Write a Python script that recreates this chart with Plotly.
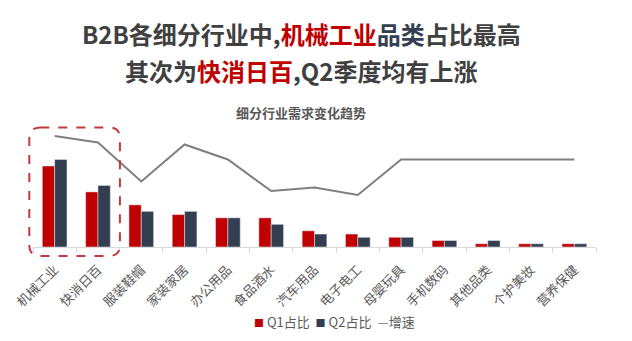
import plotly.graph_objects as go

categories = ["机械工业", "快消日百", "服装鞋帽", "家装家居", "办公用品", "食品酒水",
              "汽车用品", "电子电工", "母婴玩具", "手机数码", "其他品类", "个护美妆", "营养保健"]
q1_share = [25, 17, 13, 10, 9, 9, 5, 4, 3, 2, 1, 1, 1]
q2_share = [27, 19, 11, 11, 9, 7, 4, 3, 3, 2, 2, 1, 1]
growth = [22.2, 20.9, 13.1, 20.5, 17.5, 11.2, 11.9, 10.4, 17.5, 17.5, 17.5, 17.5, 17.5]
series_names = ["Q1占比", "Q2占比", "增速"]

W, H = 632, 341
L, R, T, B = 33, 36, 125, 94
PW, PH = W - L - R, H - T - B

RED = "#C00000"
NAVY = "#333F50"
GRAY = "#7F7F7F"
TXT = "#595959"
FONT = "Noto Sans CJK SC, Noto Sans, sans-serif"

fig = go.Figure()
fig.add_trace(go.Bar(x=categories, y=q1_share, name=series_names[0], marker_color=RED, yaxis="y"))
fig.add_trace(go.Bar(x=categories, y=q2_share, name=series_names[1], marker_color=NAVY, yaxis="y"))
fig.add_trace(go.Scatter(x=categories, y=growth, name=series_names[2], mode="lines",
                         line=dict(color=GRAY, width=2), yaxis="y2"))

def px2paper(px, py):
    return (px - L) / PW, (H - B - py) / PH

# rounded dashed highlight box around the first two categories
cat_w = PW / len(categories)
x0p = L + 0 * cat_w - 3.7
x1p = L + 2 * cat_w + 0.3
y0p = 127.5
y1p = 256
r = 11
def P(px, py):
    a, b = px2paper(px, py)
    return f"{a:.5f},{b:.5f}"
path = (f"M {P(x0p + r, y0p)} L {P(x1p - r, y0p)} Q {P(x1p, y0p)} {P(x1p, y0p + r)} "
        f"L {P(x1p, y1p - r)} Q {P(x1p, y1p)} {P(x1p - r, y1p)} "
        f"L {P(x0p + r, y1p)} Q {P(x0p, y1p)} {P(x0p, y1p - r)} "
        f"L {P(x0p, y0p + r)} Q {P(x0p, y0p)} {P(x0p + r, y0p)} Z")
fig.add_shape(type="path", path=path, xref="paper", yref="paper",
              line=dict(color="#C0393B", width=2, dash="dash"))

title1 = ("<b>B2B各细分行业中,<span style='color:#C00000'>机械工业</span>"
          "<span style='color:#333F50'>品类</span>占比最高</b>")
title2 = ("<b>其次为<span style='color:#C00000'>快消日百</span>"
          "<span style='color:#333F50'>,</span>Q2季度均有上涨</b>")
for txt, py in [(title1, 33), (title2, 70)]:
    ax, ay = px2paper(301, py)
    fig.add_annotation(text=txt, x=ax, y=ay, xref="paper", yref="paper",
                       xanchor="center", yanchor="middle", showarrow=False,
                       font=dict(family=FONT, size=24, color="#404040"))
sx, sy = px2paper(301, 112)
fig.add_annotation(text="<b>细分行业需求变化趋势</b>", x=sx, y=sy, xref="paper", yref="paper",
                   xanchor="center", yanchor="middle", showarrow=False,
                   font=dict(family=FONT, size=13, color=TXT))

# compact legend drawn as text (matches the tight Excel-style legend)
legend_txt = (f"<span style='color:{RED};font-size:10px'>■</span> {series_names[0]}  "
              f"<span style='color:{NAVY};font-size:10px'>■</span> {series_names[1]}  "
              f"<span style='color:{GRAY}'>—</span>{series_names[2]}")
lx, ly = px2paper(334, 321)
fig.add_annotation(text=legend_txt, x=lx, y=ly, xref="paper", yref="paper",
                   xanchor="center", yanchor="middle", showarrow=False,
                   font=dict(family=FONT, size=13, color=TXT))

fig.update_layout(
    width=W, height=H,
    margin=dict(l=L, r=R, t=T, b=B),
    paper_bgcolor="white", plot_bgcolor="white",
    barmode="group", bargap=0.43, bargroupgap=0,
    font=dict(family=FONT, color=TXT),
    showlegend=False,
    xaxis=dict(showline=True, linecolor="#D9D9D9", linewidth=1,
               ticks="outside", tickson="boundaries", ticklen=5, tickcolor="#D9D9D9",
               tickangle=-45, tickfont=dict(size=13, color=TXT), showgrid=False,
               ticklabelstandoff=9),
    yaxis=dict(range=[0, PH / 3.24], visible=False, showgrid=False),
    yaxis2=dict(range=[0, PH / 5.0], visible=False, overlaying="y", side="right",
                showgrid=False),
)

fig.write_html("out.html")
